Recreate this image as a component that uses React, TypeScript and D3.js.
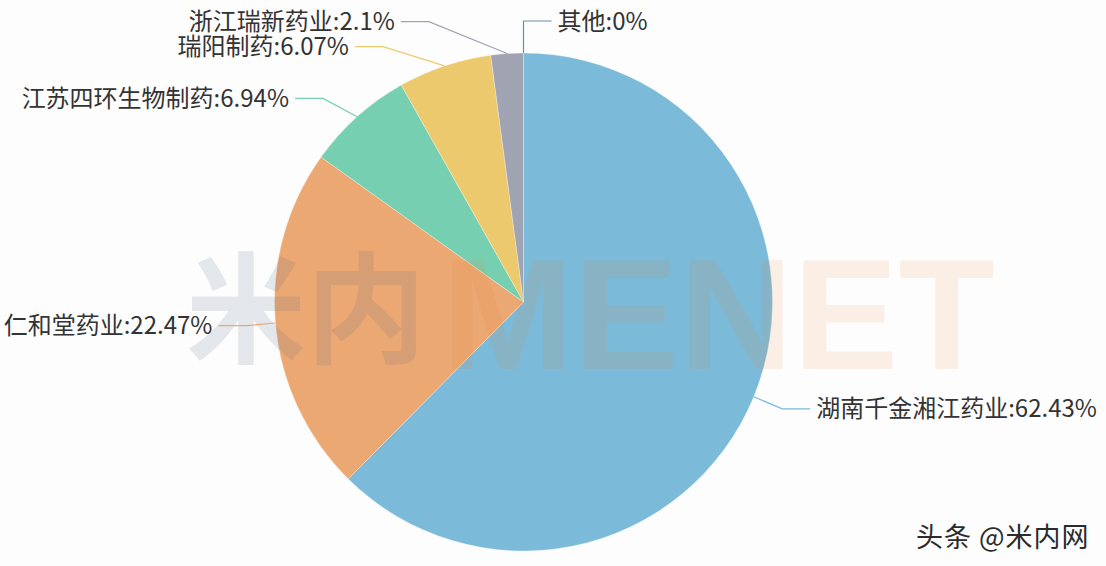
import React from 'react';
import * as d3 from 'd3';

// Market share by company (%), clockwise from 12 o'clock
const companies = ['其他', '湖南千金湘江药业', '仁和堂药业', '江苏四环生物制药', '瑞阳制药', '浙江瑞新药业'];
const shares = [0, 62.43, 22.47, 6.94, 6.07, 2.1];
const sliceColors = ['#6b8cab', '#7bbad8', '#eca873', '#76cfb0', '#edc96e', '#9fa3b2'];

const W = 1106;
const H = 566;
const cx = 523.5;
const cy = 302;
const outerR = 249;
const len1 = 32; // first label-line segment
const len2 = 28; // horizontal label-line segment
const labelH = 25;
const labelRadius = outerR + len1 + len2 - 3;

type LabelItem = {
  i: number;
  dir: number;
  p1: [number, number];
  x: number;
  y: number;
  baseX: number;
};

function layoutLabels(arcs: d3.PieArcDatum<number>[]): LabelItem[] {
  const items: LabelItem[] = arcs.map((a, i) => {
    const t = (a.startAngle + a.endAngle) / 2;
    const s = Math.sin(t);
    const c = Math.cos(t);
    const dir = s >= -1e-9 ? 1 : -1;
    const x2 = cx + (outerR + len1) * s;
    const y2 = cy - (outerR + len1) * c;
    return { i, dir, p1: [cx + outerR * s, cy - outerR * c], x: x2 + dir * len2, y: y2, baseX: x2 + dir * len2 };
  });

  // Push overlapping labels apart on one side of the pie, then slide them onto a curve
  const adjustSide = (list: LabelItem[], dir: number) => {
    list.sort((a, b) => a.y - b.y);
    const shiftUp = (end: number, delta: number) => {
      for (let j = end; j >= 0; j--) {
        if (list[j].y - delta < 0) break;
        list[j].y -= delta;
        if (j > 0 && list[j].y > list[j - 1].y + labelH) break;
      }
    };
    const shiftDown = (start: number, end: number, delta: number) => {
      for (let j = start; j < end; j++) {
        if (list[j].y + delta > H) break;
        list[j].y += delta;
        if (j > start && j + 1 < end && list[j + 1].y > list[j].y + labelH) {
          shiftUp(j, delta / 2);
          return;
        }
      }
      shiftUp(end - 1, delta / 2);
    };
    let lastY = 0;
    for (let i = 0; i < list.length; i++) {
      const delta = list[i].y - lastY;
      if (delta < 0) shiftDown(i, list.length, -delta);
      lastY = list[i].y + labelH;
    }
    const changeX = (sub: LabelItem[], isDown: boolean) => {
      let last = isDown ? Number.MAX_VALUE : 0;
      sub.forEach((it) => {
        const dy = Math.abs(it.y - cy);
        let dx = dy < outerR + len1 - 0.01
          ? Math.sqrt(labelRadius * labelRadius - dy * dy)
          : Math.abs(it.baseX - cx);
        if (isDown && dx >= last) dx = last - 10;
        if (!isDown && dx <= last) dx = last + 10;
        it.x = cx + dx * dir;
        last = dx;
      });
    };
    changeX(list.filter((d) => d.y < cy), false);
    changeX(list.filter((d) => d.y >= cy), true);
  };

  adjustSide(items.filter((d) => d.dir > 0), 1);
  adjustSide(items.filter((d) => d.dir < 0), -1);
  return items;
}

export default function App() {
  const pie = d3.pie<number>().sort(null).value((d) => d).startAngle(0).endAngle(2 * Math.PI);
  const arcs = pie(shares);
  const arcGen = d3.arc<d3.PieArcDatum<number>>().innerRadius(0).outerRadius(outerR);
  const labels = layoutLabels(arcs);
  const line = d3.line();

  return (
    <svg
      width={W}
      height={H}
      style={{ position: 'absolute', left: 0, top: 0, background: '#fdfdfd' }}
    >
      <rect width={W} height={H} fill="#fdfdfd" />
      <g transform={`translate(${cx},${cy})`}>
        {arcs.map((a, i) => (
          <path
            key={companies[i]}
            d={arcGen(a) || ''}
            fill={sliceColors[i]}
            stroke="#ffffff"
            strokeOpacity={0.5}
            strokeWidth={0.6}
          />
        ))}
      </g>

      {/* brand watermark */}
      <text
        x={186}
        y={354}
        fontFamily="'Noto Sans CJK SC', sans-serif"
        fontWeight={700}
        fontSize={120}
        fill="#4f6987"
        opacity={0.14}
      >
        米内
      </text>
      <text
        x={442}
        y={369}
        fontFamily="'Liberation Sans', Arial, sans-serif"
        fontWeight={700}
        fontSize={158}
        fill="#e8873f"
        opacity={0.12}
      >
        MENET
      </text>

      {labels.map((l) => {
        const bend: [number, number] = [l.x - l.dir * len2, l.y];
        const end: [number, number] = [l.x, l.y];
        return (
          <g key={companies[l.i]}>
            <path
              d={line([l.p1, bend, end]) || ''}
              fill="none"
              stroke={sliceColors[l.i]}
              strokeWidth={1.2}
            />
            <text
              x={l.x + l.dir * 6}
              y={l.y - 2}
              textAnchor={l.dir > 0 ? 'start' : 'end'}
              dominantBaseline="central"
              fontFamily="'Noto Sans CJK SC', sans-serif"
              fontSize={24}
              fill="#333"
            >
              {`${companies[l.i]}:${shares[l.i]}%`}
            </text>
          </g>
        );
      })}

      <text
        x={916}
        y={547}
        fontFamily="'Noto Sans CJK SC', sans-serif"
        fontSize={27}
        letterSpacing={1}
        fill="#2b2b2b"
        stroke="#ffffff"
        strokeWidth={1}
        paintOrder="stroke"
      >
        头条 @米内网
      </text>
    </svg>
  );
}
